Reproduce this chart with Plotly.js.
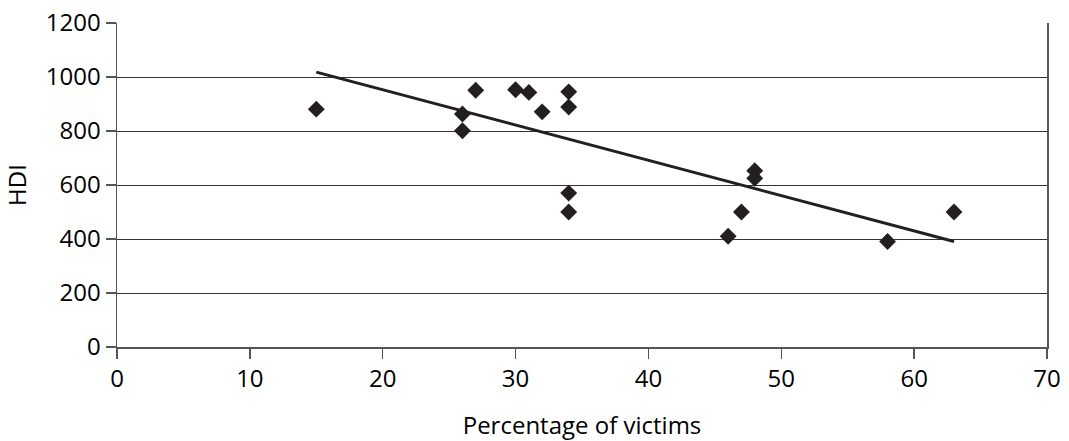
<!DOCTYPE html>
<html>
<head>
<meta charset="utf-8">
<script src="https://cdn.plot.ly/plotly-3.0.1.min.js"></script>
<style>html,body{margin:0;padding:0;background:#fff;}#chart{width:1069px;height:441px;}</style>
</head>
<body>
<div id="chart"></div>
<script>
// Scatter data: percentage of victims vs HDI
const victimsPct = [15, 26, 26, 27, 30, 31, 32, 34, 34, 34, 34, 46, 47, 48, 48, 58, 63];
const hdiValues  = [881, 863, 801, 951, 953, 943, 871, 945, 889, 570, 500, 410, 500, 653, 625, 391, 500];
// Linear trend line endpoints
const trendX = [15, 63];
const trendY = [1018, 391];
const xTicks = [0, 10, 20, 30, 40, 50, 60, 70];
const yTicks = [0, 200, 400, 600, 800, 1000, 1200];

const ink = '#231f20';
const fontFam = 'Open Sans, Noto Sans, sans-serif';

const traces = [
  {
    x: victimsPct, y: hdiValues, type: 'scatter', mode: 'markers',
    marker: {symbol: 'diamond', size: 13, color: ink, line: {width: 0}},
    hoverinfo: 'x+y', showlegend: false
  },
  {
    x: trendX, y: trendY, type: 'scatter', mode: 'lines',
    line: {color: ink, width: 3}, hoverinfo: 'skip', showlegend: false
  }
];

const layout = {
  width: 1069, height: 441,
  margin: {l: 117, r: 22, t: 23, b: 94},
  paper_bgcolor: '#fff', plot_bgcolor: '#fff',
  font: {family: fontFam, size: 24, color: '#000'},
  xaxis: {
    range: [0, 70], tickvals: xTicks, ticktext: xTicks.map(String),
    showgrid: false, zeroline: false, automargin: false,
    showline: true, linecolor: '#555', linewidth: 1.5,
    ticks: 'outside', ticklen: 10, tickwidth: 1.5, tickcolor: '#555',
    title: {text: 'Percentage of victims', font: {size: 24}, standoff: 26},
    tickfont: {size: 24}
  },
  yaxis: {
    range: [0, 1200], tickvals: yTicks, ticktext: yTicks.map(String),
    showgrid: true, gridcolor: '#333', gridwidth: 1,
    zeroline: false, automargin: false,
    showline: true, mirror: true, linecolor: '#555', linewidth: 1.5,
    ticks: 'outside', ticklen: 10, tickwidth: 1.5, tickcolor: '#555',
    title: {text: 'HDI', font: {size: 24}, standoff: 16},
    tickfont: {size: 24}
  }
};

Plotly.newPlot('chart', traces, layout, {staticPlot: true, displayModeBar: false});
</script>
</body>
</html>
